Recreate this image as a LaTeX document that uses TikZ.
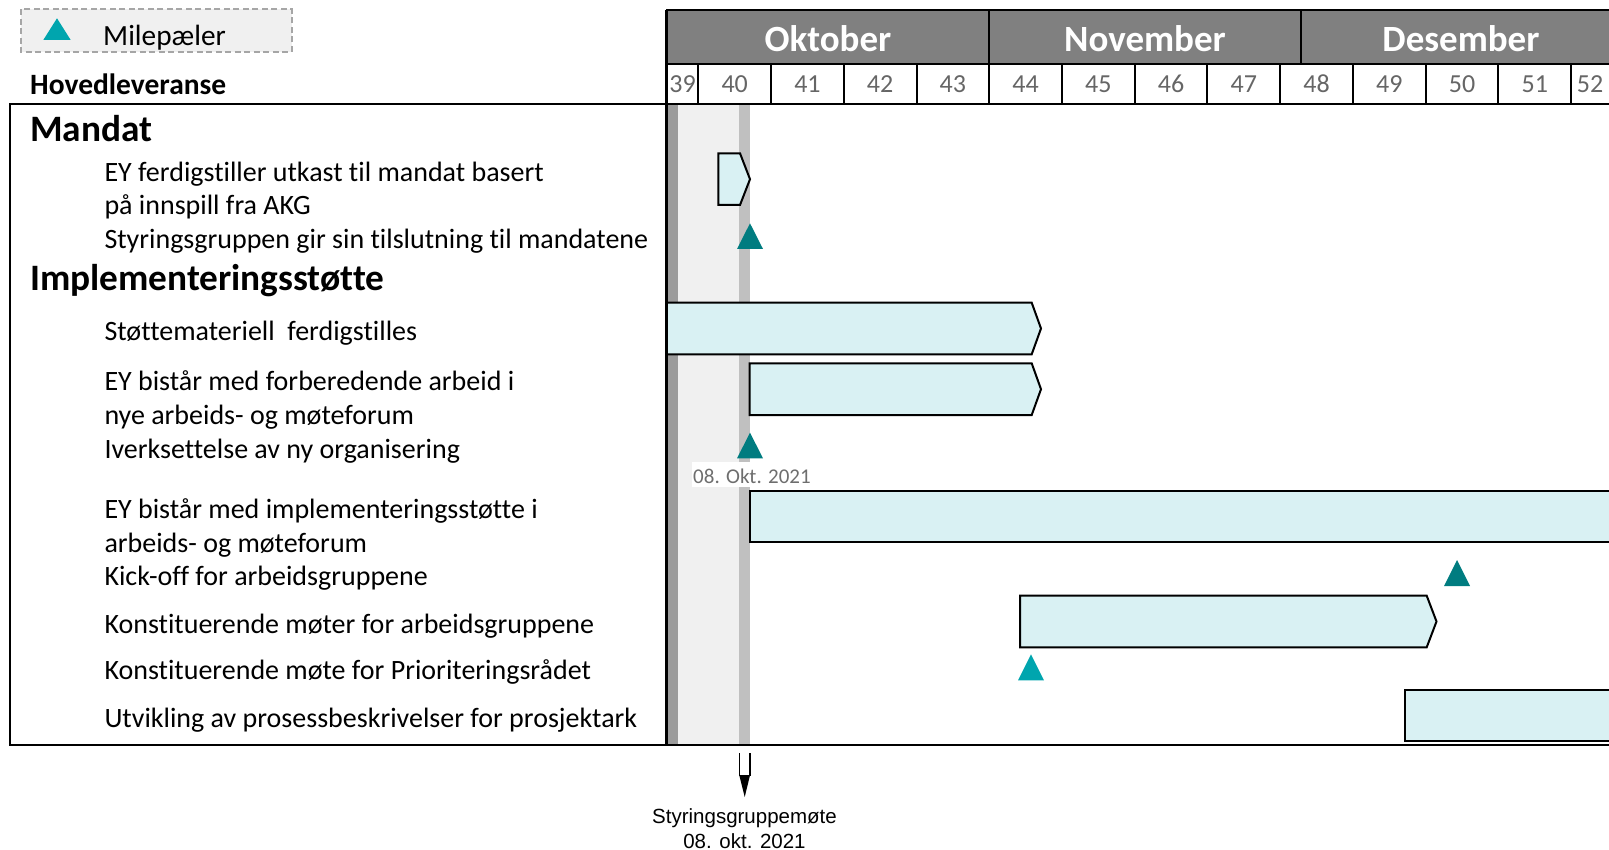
\documentclass[tikz,border=0pt]{standalone}
\usepackage{fontspec}
\setmainfont{Carlito}[Ligatures=NoCommon]
\newfontfamily\arialfont{Liberation Sans}
\definecolor{barfill}{HTML}{D9F1F3}
\definecolor{tealdark}{HTML}{007C80}
\definecolor{teallight}{HTML}{00A5AE}
\definecolor{monthgray}{HTML}{808080}
\definecolor{weektext}{HTML}{666666}
\definecolor{stripdark}{HTML}{9B9B9B}
\definecolor{stripmid}{HTML}{C0C0C0}
\definecolor{stripbg}{HTML}{F0F0F0}
\definecolor{legendedge}{HTML}{A6A6A6}
\definecolor{datetext}{HTML}{6E6E6E}

\begin{document}
\begin{tikzpicture}[x=1pt,y=-1pt,
  txt/.style={anchor=base west,inner sep=0pt,font=\fontsize{28}{34}\selectfont},
  head/.style={anchor=base west,inner sep=0pt,font=\fontsize{37.3}{44}\selectfont\bfseries},
  monthlbl/.style={anchor=base,inner sep=0pt,text=white,font=\fontsize{37}{44}\selectfont\bfseries},
  weeklbl/.style={anchor=base,inner sep=0pt,text=weektext,font=\fontsize{26}{31}\selectfont},
  bar/.style={draw=black,line width=2pt,fill=barfill,line join=miter},
  frame/.style={draw=black,line width=2pt},
  msdark/.style={fill=tealdark},
  mslight/.style={fill=teallight},
  notelbl/.style={anchor=base,inner sep=0pt,font=\arialfont\fontsize{20.5}{25}\selectfont}
]
\useasboundingbox (0,0) rectangle (1609,850);
\begin{scope}
\clip (0,0) rectangle (1609,850);

% today / meeting band behind the chart rows
\fill[stripdark] (666.7,104) rectangle (677.7,745);
\fill[stripbg]   (677.7,104) rectangle (739,745);
\fill[stripmid]  (739,104)   rectangle (750,745);

% activity bars
\draw[bar] (718.3,153.3) -- (740,153.3) -- (750,179.2) -- (740,205) -- (718.3,205) -- cycle;
\draw[bar] (666.7,302.7) -- (1031.7,302.7) -- (1041,328.5) -- (1031.7,354.3) -- (666.7,354.3) -- cycle;
\draw[bar] (749.5,363.3) -- (1031.7,363.3) -- (1041,389.2) -- (1031.7,415) -- (749.5,415) -- cycle;
\draw[bar] (749.5,491) rectangle (1625,542.3);
\draw[bar] (1020,595.7) -- (1426.7,595.7) -- (1436.5,621.5) -- (1426.7,647.3) -- (1020,647.3) -- cycle;
\draw[bar] (1404.5,690) rectangle (1625,741);

% milestones
\fill[msdark]  (750,223.3) -- (763,249) -- (737,249) -- cycle;
\fill[msdark]  (750,432.7) -- (763,458.3) -- (737,458.3) -- cycle;
\fill[msdark]  (1457,560) -- (1470,586) -- (1444,586) -- cycle;
\fill[mslight] (1031,654.3) -- (1044,680.3) -- (1018,680.3) -- cycle;

% date tag of the milestone
\fill[white] (691.7,461.7) rectangle (808,487.3);
\node[anchor=base west,inner sep=0pt,text=datetext,font=\fontsize{21}{25}\selectfont] (datetag) at (693,483.8) {08. Okt. 2021};

% legend
\draw[draw=legendedge,fill=stripbg,line width=2pt,dash pattern=on 6pt off 3.5pt] (20.7,9.3) rectangle (291.7,51.7);
\fill[mslight] (57,18.3) -- (70.7,40) -- (43.3,40) -- cycle;
\node[anchor=base west,inner sep=0pt,font=\fontsize{29.3}{35}\selectfont] (legendlbl) at (103,45.5) {Milepæler};

% month row
\draw[frame,fill=monthgray] (666.7,10) rectangle (1625,64);
\draw[frame] (989,10) -- (989,64);
\draw[frame] (1301.3,10) -- (1301.3,64);
\node[monthlbl] (okt) at (828,51.2) {Oktober};
\node[monthlbl] (nov) at (1145,51.2) {November};
\node[monthlbl] (des) at (1461,51.2) {Desember};

% week row
\draw[frame,fill=white] (666.7,64) rectangle (1625,104);
\draw[frame] (698.3,64) -- (698.3,104);
\foreach \k in {1,...,12} {
  \draw[frame] ({698.3+\k*72.73},64) -- ({698.3+\k*72.73},104);
}
\node[weeklbl] (w39) at (682.5,93) {39};
\foreach \k in {40,...,51} {
  \node[weeklbl] (w\k) at ({698.3+(\k-40)*72.73+36.4},93) {\k};
}
\node[weeklbl] (w52) at (1590,93) {52};

% chart frame
\draw[frame] (9.5,104) rectangle (666.7,745);
\draw[frame] (666.7,104) -- (1625,104);
\draw[frame] (666.7,745) -- (1625,745);
\draw[draw=black,line width=2.5pt] (666.7,10) -- (666.7,745);
\end{scope}

% column and section headings
\node[anchor=base west,inner sep=0pt,font=\fontsize{29.5}{35}\selectfont\bfseries] (hoved) at (30,94.5) {Hovedleveranse};
\node[head] (mandat) at (30,141.3) {Mandat};
\node[head] (impl) at (30,290.3) {Implementeringsstøtte};

% activity texts
\node[txt] (t1)  at (104.3,182)   {EY ferdigstiller utkast til mandat basert};
\node[txt] (t2)  at (104.3,214.7) {på innspill fra AKG};
\node[txt] (t3)  at (104.3,248.7) {Styringsgruppen gir sin tilslutning til mandatene};
\node[txt] (t4)  at (104.3,341)   {Støttemateriell\ \ ferdigstilles};
\node[txt] (t5)  at (104.3,390.3) {EY bistår med forberedende arbeid i};
\node[txt] (t6)  at (104.3,424.7) {nye arbeids- og møteforum};
\node[txt] (t7)  at (104.3,458.3) {Iverksettelse av ny organisering};
\node[txt] (t8)  at (104.3,518.7) {EY bistår med implementeringsstøtte i};
\node[txt] (t9)  at (104.3,552)   {arbeids- og møteforum};
\node[txt] (t10) at (104.3,585.3) {Kick-off for arbeidsgruppene};
\node[txt] (t11) at (104.3,633)   {Konstituerende møter for arbeidsgruppene};
\node[txt] (t12) at (104.3,679.7) {Konstituerende møte for Prioriteringsrådet};
\node[txt] (t13) at (104.3,727)   {Utvikling av prosessbeskrivelser for prosjektark};

% steering group meeting marker
\coordinate (meetL) at (739.3,753.3);
\coordinate (meetR) at (750,753.3);
\coordinate (meetBL) at (739.3,775.3);
\coordinate (meetBR) at (750,775.3);
\coordinate (meetTip) at (744.7,797);
\draw[line width=1.6pt] (meetL) -- (meetBL) -- (meetBR) -- (meetR);
\fill (meetBL) -- (meetBR) -- (meetTip) -- cycle;
\node[notelbl] (meet1) at (744.5,823.5) {Styringsgruppemøte};
\node[notelbl] (meet2) at (744.5,848.5) {08. okt. 2021};
\end{tikzpicture}
\end{document}
